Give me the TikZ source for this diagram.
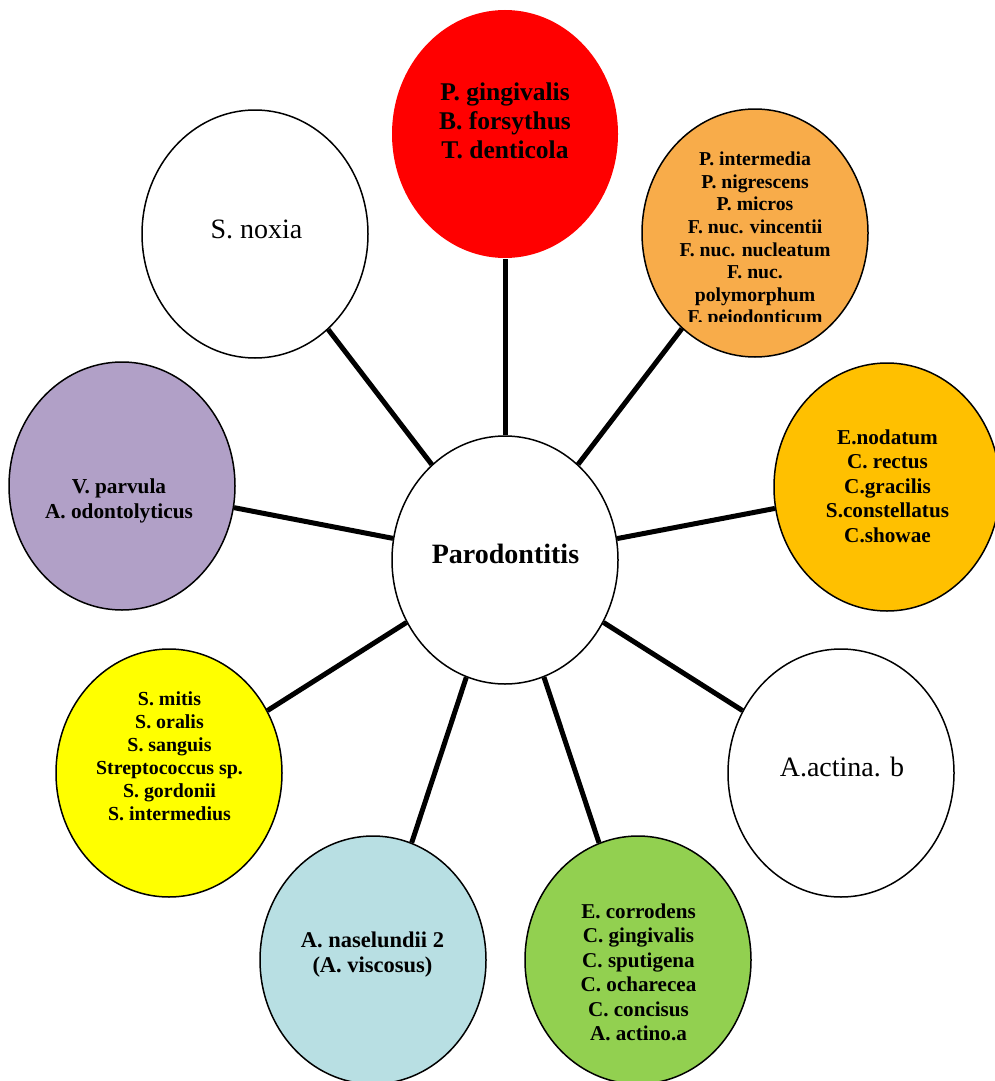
\documentclass[tikz,border=0pt]{standalone}
\usepackage{fontspec}
\setmainfont{Liberation Serif}
\usetikzlibrary{shapes.geometric}
\definecolor{cRed}{HTML}{FF0000}
\definecolor{cOrange}{HTML}{F8AC4A}
\definecolor{cGold}{HTML}{FFC000}
\definecolor{cYellow}{HTML}{FFFF00}
\definecolor{cGreen}{HTML}{92D050}
\definecolor{cBlue}{HTML}{B8DFE3}
\definecolor{cPurple}{HTML}{B1A0C7}
\begin{document}
\begin{tikzpicture}[x=1pt,y=-1pt,
  bubble/.style={ellipse, draw=black, line width=1.5pt, minimum width=226pt, minimum height=248pt, inner sep=0pt},
  link/.style={line width=5pt},
  lbl/.style={align=center, anchor=base, inner sep=0pt},
]
\useasboundingbox (0,0) rectangle (995,1081);
\fill[white] (0,0) rectangle (995,1081);

\node[bubble, fill=cRed, draw=none] (red) at (505,134) {};
\node[bubble, fill=cOrange] (orange) at (755,233) {};
\node[bubble, fill=cGold] (gold) at (887,487) {};
\node[bubble, fill=white] (actina) at (841,773) {};
\node[bubble, fill=cGreen] (green) at (638,960) {};
\node[bubble, fill=cBlue] (blue) at (373,960) {};
\node[bubble, fill=cYellow] (yellow) at (169,773) {};
\node[bubble, fill=cPurple] (purple) at (122,486) {};
\node[bubble, fill=white] (noxia) at (255,234) {};
\node[bubble, fill=white] (center) at (505,560) {};

\foreach \n in {red,orange,gold,actina,green,blue,yellow,purple,noxia}
  \draw[link] (center) -- (\n);

\node[lbl, font=\fontsize{25.5}{29}\selectfont\bfseries] (tred) at (505,158)
  {P. gingivalis\\B. forsythus\\T. denticola};
\begin{scope}
\clip (640,100) rectangle (870,321);
\node[lbl, font=\fontsize{19.7}{22.6}\selectfont\bfseries] (torange) at (755,323.9)
  {P. intermedia\\P. nigrescens\\P. micros\\F. nuc. vincentii\\F. nuc. nucleatum\\F. nuc.\\polymorphum\\F. peiodonticum};
\end{scope}
\node[lbl, font=\fontsize{21.2}{24.5}\selectfont\bfseries] (tgold) at (887.5,542)
  {E.nodatum\\C. rectus\\C.gracilis\\S.constellatus\\C.showae};
\node[lbl, font=\fontsize{28}{32}\selectfont] (tactina) at (842,776) {A.actina. b};
\node[lbl, font=\fontsize{21.1}{24.5}\selectfont\bfseries] (tgreen) at (638.5,1040.5)
  {E. corrodens\\C. gingivalis\\C. sputigena\\C. ocharecea\\C. concisus\\A. actino.a};
\node[lbl, font=\fontsize{22.5}{25}\selectfont\bfseries] (tblue) at (372.5,972)
  {A. naselundii 2\\(A. viscosus)};
\node[lbl, font=\fontsize{19.9}{23}\selectfont\bfseries] (tyellow) at (169.5,820)
  {S. mitis\\S. oralis\\S. sanguis\\Streptococcus sp.\\S. gordonii\\S. intermedius};
\node[lbl, font=\fontsize{21.3}{25}\selectfont\bfseries] (tpurple) at (119,518)
  {V. parvula\\A. odontolyticus};
\node[lbl, font=\fontsize{28}{32}\selectfont] (tnoxia) at (256.5,238) {S. noxia};
\node[lbl, font=\fontsize{28}{32}\selectfont\bfseries] (tcenter) at (505.5,563) {Parodontitis};
\end{tikzpicture}
\end{document}
